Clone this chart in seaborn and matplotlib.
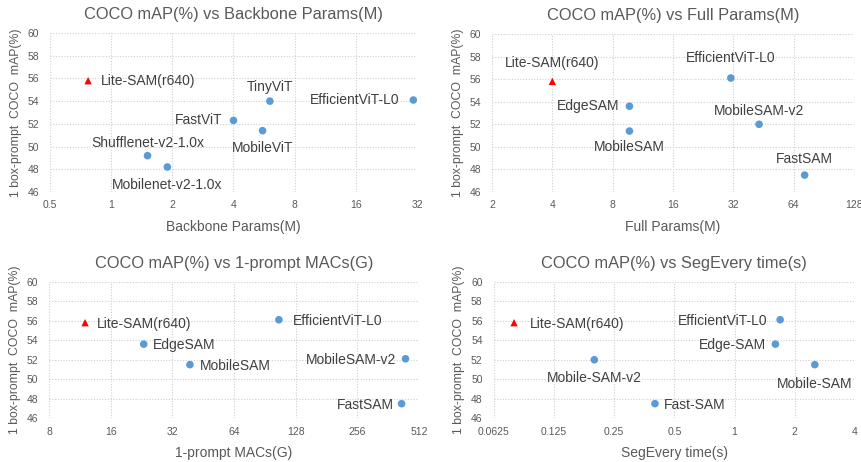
import matplotlib
matplotlib.use("Agg")
import matplotlib.pyplot as plt
import seaborn as sns
import pandas as pd

sns.set_theme(style="white")
plt.rcParams['font.family'] = ['Liberation Sans', 'DejaVu Sans']

# ---- data ----
bb_names = ['Lite-SAM(r640)', 'Shufflenet-v2-1.0x', 'Mobilenet-v2-1.0x', 'FastViT',
            'MobileViT', 'TinyViT', 'EfficientViT-L0']
bb_params = [0.77, 1.51, 1.89, 4.0, 5.56, 6.04, 30.7]
bb_map = [55.8, 49.2, 48.2, 52.3, 51.4, 54.0, 54.1]

full_names = ['Lite-SAM(r640)', 'EdgeSAM', 'MobileSAM', 'EfficientViT-L0', 'MobileSAM-v2', 'FastSAM']
full_params = [4.0, 9.7, 9.7, 31.1, 43.0, 72.6]
full_map = [55.8, 53.6, 51.4, 56.1, 52.0, 47.5]

macs_names = ['Lite-SAM(r640)', 'EdgeSAM', 'MobileSAM', 'EfficientViT-L0', 'MobileSAM-v2', 'FastSAM']
macs_g = [12.0, 23.2, 39.0, 106.0, 440.0, 421.0]
macs_map = [55.8, 53.6, 51.5, 56.1, 52.1, 47.5]

seg_names = ['Lite-SAM(r640)', 'Mobile-SAM-v2', 'Fast-SAM', 'EfficientViT-L0', 'Edge-SAM', 'Mobile-SAM']
seg_time = [0.079, 0.199, 0.40, 1.69, 1.60, 2.52]
seg_map = [55.8, 52.0, 47.5, 56.1, 53.6, 51.5]

bb_ticks = ['0.5', '1', '2', '4', '8', '16', '32']
full_ticks = ['2', '4', '8', '16', '32', '64', '128']
macs_ticks = ['8', '16', '32', '64', '128', '256', '512']
seg_ticks = ['0.0625', '0.125', '0.25', '0.5', '1', '2', '4']
y_ticks = [46, 48, 50, 52, 54, 56, 58, 60]

# ---- label placement (pixel offsets, alignment) ----
bb_lab = [(13, 0, 'left'), (0, 13, 'center'), (0, -18, 'center'), (-11, 0, 'right'),
          (0, -17, 'center'), (0, 14, 'center'), (-14, 0, 'right')]
full_lab = [(0, 18, 'center'), (-10, 0, 'right'), (0, -16, 'center'), (0, 20, 'center'),
            (0, 13, 'center'), (0, 16, 'center')]
macs_lab = [(12, -1, 'left'), (9, -1, 'left'), (10, -1, 'left'), (14, -1, 'left'),
            (-9, -1, 'right'), (-8, -1, 'right')]
seg_lab = [(16, -1, 'left'), (0, -18, 'center'), (9, -1, 'left'), (-13, -1, 'right'),
           (-9, -1, 'right'), (0, -19, 'center')]

panels = [
    ('COCO mAP(%) vs Backbone Params(M)', 'Backbone Params(M)', bb_names, bb_params, bb_map, bb_ticks, bb_lab,
     [50 / 862, 270 / 462, 367 / 862, 159 / 462]),
    ('COCO mAP(%) vs Full Params(M)', 'Full Params(M)', full_names, full_params, full_map, full_ticks, full_lab,
     [492 / 862, 270 / 462, 362 / 862, 158 / 462]),
    ('COCO mAP(%) vs 1-prompt MACs(G)', '1-prompt MACs(G)', macs_names, macs_g, macs_map, macs_ticks, macs_lab,
     [49 / 862, 43.7 / 462, 370 / 862, 136.6 / 462]),
    ('COCO mAP(%) vs SegEvery time(s)', 'SegEvery time(s)', seg_names, seg_time, seg_map, seg_ticks, seg_lab,
     [493.7 / 862, 43.7 / 462, 361.3 / 862, 136.6 / 462]),
]

blue = '#5B9BD5'
red = '#FF0000'
grey_txt = '#595959'
dark_txt = '#404040'

fig = plt.figure(figsize=(8.62, 4.62), dpi=100)

for title, xlabel, names, xs, ys, ticks, labs, rect in panels:
    ax = fig.add_axes(rect)
    df = pd.DataFrame({'name': names, 'x': xs, 'y': ys})
    ours = df[df['name'].str.startswith('Lite-SAM')]
    others = df[~df['name'].str.startswith('Lite-SAM')]
    sns.scatterplot(data=others, x='x', y='y', ax=ax, color=blue, s=30, marker='o',
                    edgecolor='none', zorder=3)
    sns.scatterplot(data=ours, x='x', y='y', ax=ax, color=red, s=28, marker='^',
                    edgecolor='none', zorder=3)
    ax.set_xscale('log', base=2)
    tick_vals = [float(t) for t in ticks]
    ax.set_xlim(tick_vals[0], tick_vals[-1])
    ax.set_xticks(tick_vals)
    ax.set_xticklabels(ticks)
    ax.minorticks_off()
    ax.set_ylim(46, 60)
    ax.set_yticks(y_ticks)
    ax.set_yticklabels([str(v) for v in y_ticks])
    ax.tick_params(axis='both', length=0, labelsize=7.5, labelcolor=grey_txt)
    ax.tick_params(axis='y', pad=8)
    ax.tick_params(axis='x', pad=6)
    ax.grid(True, which='major', linestyle=(0, (1, 1.5)), color='#cfcfcf', linewidth=0.8)
    for sp in ax.spines.values():
        sp.set_visible(False)
    ax.set_xlabel(xlabel, fontsize=10, color=grey_txt, labelpad=7)
    ax.set_ylabel('1 box-prompt  COCO  mAP(%)', fontsize=8.8, color=grey_txt, labelpad=4)
    ax.set_title(title, fontsize=11.8, color=grey_txt, pad=10)
    for (n, x, y), (dx, dy, ha) in zip(zip(names, xs, ys), labs):
        ax.annotate(n, (x, y), xytext=(dx, dy), textcoords='offset pixels',
                    ha=ha, va='center', fontsize=10, color=dark_txt, zorder=4)

fig.savefig('out.png', dpi=100, facecolor='white')
